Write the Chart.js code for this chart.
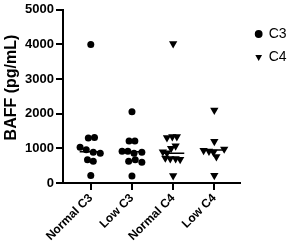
<!DOCTYPE html>
<html>
<head>
<meta charset="utf-8">
<script src="https://cdn.jsdelivr.net/npm/chart.js@4.4.1/dist/chart.umd.min.js"></script>
<style>
  html, body { margin: 0; padding: 0; background: #fff; }
  canvas { display: block; }
</style>
</head>
<body>
<canvas id="baffChart" width="300" height="251"></canvas>
<script>
// groups on the x axis
const groups = ['Normal C3', 'Low C3', 'Normal C4', 'Low C4'];
const yTicks = [0, 1000, 2000, 3000, 4000, 5000];

// BAFF values (pg/mL), with the small sideways spread of each dot
const normalC3 = [4000, 1300, 1315, 1030, 960, 890, 860, 670, 625, 220];
const normalC3Spread = [0, -0.06, 0.09, -0.26, -0.11, 0.06, 0.23, -0.08, 0.06, 0];
const lowC3 = [2060, 1210, 1210, 920, 920, 860, 890, 630, 670, 600, 200];
const lowC3Spread = [0, -0.07, 0.07, -0.24, -0.1, 0.05, 0.24, -0.08, 0.08, 0.24, 0];
const normalC4 = [4020, 1310, 1335, 1335, 1070, 1000, 900, 870, 720, 700, 700, 680, 210];
const normalC4Spread = [0, -0.15, -0.02, 0.09, 0.06, -0.05, -0.25, -0.15, -0.19, -0.07, 0.06, 0.17, 0];
const lowC4 = [2100, 1200, 940, 920, 890, 980, 760, 220];
const lowC4Spread = [0, 0, -0.26, -0.13, -0.02, 0.24, 0.05, 0];

// horizontal median bars
const medians = [900, 900, 860, 950];

function points(values, spread, groupIndex) {
  return values.map((v, i) => ({ x: groupIndex + spread[i], y: v }));
}

const medianSets = medians.map((m, i) => ({
  type: 'line',
  data: [{ x: i - 0.27, y: m }, { x: i + 0.27, y: m }],
  borderColor: '#000',
  borderWidth: 1.5,
  pointRadius: 0,
  fill: false
}));

// outward tick marks on both axes
const tickMarks = {
  id: 'tickMarks',
  afterDraw(chart) {
    const { ctx } = chart;
    const x = chart.scales.x;
    const y = chart.scales.y;
    ctx.save();
    ctx.strokeStyle = '#000';
    ctx.lineWidth = 2;
    ctx.beginPath();
    y.ticks.forEach(t => {
      const py = Math.round(y.getPixelForValue(t.value));
      ctx.moveTo(y.right - 7, py);
      ctx.lineTo(y.right, py);
    });
    x.ticks.forEach(t => {
      const px = Math.round(x.getPixelForValue(t.value));
      ctx.moveTo(px, x.top);
      ctx.lineTo(px, x.top + 7);
    });
    ctx.stroke();
    ctx.restore();
  }
};

const font = 'Liberation Sans, Arial, Helvetica, sans-serif';

new Chart(document.getElementById('baffChart'), {
  type: 'scatter',
  data: {
    datasets: [
      {
        label: 'C3',
        data: points(normalC3, normalC3Spread, 0).concat(points(lowC3, lowC3Spread, 1)),
        pointStyle: 'circle',
        pointRadius: 3.5,
        backgroundColor: '#000',
        borderColor: '#000',
        borderWidth: 0
      },
      {
        label: 'C4',
        data: points(normalC4, normalC4Spread, 2).concat(points(lowC4, lowC4Spread, 3)),
        pointStyle: 'triangle',
        pointRotation: 180,
        pointRadius: 4.8,
        backgroundColor: '#000',
        borderColor: '#000',
        borderWidth: 0
      },
      ...medianSets
    ]
  },
  plugins: [tickMarks],
  options: {
    responsive: false,
    animation: false,
    layout: { padding: { top: 7, right: 4, bottom: 0, left: 0 } },
    plugins: {
      tooltip: { enabled: false },
      legend: {
        position: 'right',
        align: 'start',
        title: { display: true, text: '', font: { size: 1, lineHeight: 1 }, padding: { top: 10, bottom: 0 } },
        labels: {
          usePointStyle: true,
          boxWidth: 6,
          boxHeight: 5.5,
          padding: 9,
          color: '#000',
          font: { family: font, size: 14 },
          filter: item => item.datasetIndex < 2
        }
      }
    },
    scales: {
      x: {
        type: 'linear',
        min: -0.675,
        max: 3.64,
        afterBuildTicks: s => { s.ticks = groups.map((g, i) => ({ value: i })); },
        afterFit: s => { s.height = 68; },
        // tick space kept here, the marks themselves come from tickMarks
        grid: { drawOnChartArea: false, tickColor: 'rgba(0,0,0,0)', tickLength: 7 },
        border: { display: true, color: '#000', width: 2 },
        ticks: {
          autoSkip: false,
          minRotation: 45,
          maxRotation: 45,
          padding: 1,
          color: '#000',
          font: { family: font, size: 12, weight: 'bold' },
          callback: v => groups[v]
        }
      },
      y: {
        min: 0,
        max: 5000,
        afterBuildTicks: s => { s.ticks = yTicks.map(v => ({ value: v })); },
        afterFit: s => { s.width = 63; },
        grid: { drawOnChartArea: false, tickColor: 'rgba(0,0,0,0)', tickLength: 7 },
        border: { display: true, color: '#000', width: 2 },
        ticks: {
          padding: 2,
          color: '#000',
          font: { family: font, size: 13, weight: 'bold' },
          callback: v => String(v)
        },
        title: {
          display: true,
          text: '    BAFF (pg/mL)',
          color: '#000',
          padding: { top: 2, bottom: 0 },
          font: { family: font, size: 16, weight: 'bold' }
        }
      },
      // empty strip that keeps the legend off the end of the x axis
      gap: {
        position: 'right',
        display: true,
        grid: { display: false },
        border: { display: false },
        ticks: { display: false },
        afterFit: s => { s.width = 6; }
      }
    }
  }
});
</script>
</body>
</html>
